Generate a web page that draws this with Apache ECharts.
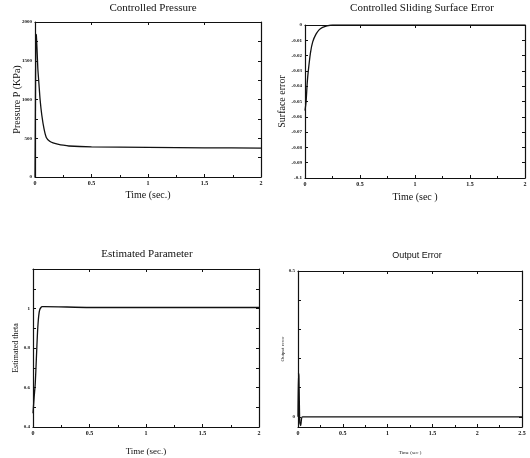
<!DOCTYPE html>
<html>
<head>
<meta charset="utf-8">
<script src="https://cdn.jsdelivr.net/npm/echarts@6/dist/echarts.min.js"></script>
<style>
  html, body { margin: 0; padding: 0; background: #fff; }
  #chart { width: 530px; height: 458px; }
</style>
</head>
<body>
<div id="chart"></div>
<script>
// values
var pressureT = [0, 0.004, 0.008, 0.012, 0.018, 0.025, 0.035, 0.045, 0.06, 0.08, 0.1, 0.13, 0.16, 0.2, 0.25, 0.3, 0.5, 1, 1.5, 2];
var pressureP = [0, 1000, 1840, 1830, 1650, 1400, 1200, 1000, 800, 620, 510, 460, 440, 425, 410, 400, 390, 383, 377, 372];

var surfT = [0, 0.01, 0.02, 0.03, 0.05, 0.07, 0.1, 0.13, 0.16, 0.2, 0.25, 0.5, 1, 1.5, 2];
var surfE = [-0.056, -0.05, -0.038, -0.03, -0.018, -0.011, -0.006, -0.003, -0.0015, -0.0005, 0, 0, 0, 0, 0];

var thetaT = [0, 0.01, 0.02, 0.03, 0.04, 0.05, 0.06, 0.08, 0.1, 0.5, 1, 1.5, 2];
var thetaV = [0.47, 0.55, 0.62, 0.75, 0.88, 0.96, 0.995, 1.01, 1.01, 1.005, 1.005, 1.005, 1.005];

var outT = [0, 0.005, 0.01, 0.015, 0.02, 0.03, 0.04, 0.05, 0.5, 1, 1.5, 2, 2.5];
var outE = [0, 0.15, 0.14, 0.05, -0.02, -0.03, -0.005, 0, 0, 0, 0, 0, 0];

// tick labels
var pressureTicks = [0, 500, 1000, 1500, 2000];
var surfTicks = [0, -0.01, -0.02, -0.03, -0.04, -0.05, -0.06, -0.07, -0.08, -0.09, -0.1];
var thetaTicks = [0.4, 0.6, 0.8, 1];
var outTicks = [0, 0.5];

var fnt = 'Liberation Serif';

function pairs(xs, ys) {
    var out = [];
    for (var i = 0; i < xs.length; i++) out.push([xs[i], ys[i]]);
    return out;
}

var grids = [
    {left: 35, top: 22, width: 226, height: 155},
    {left: 305, top: 25, width: 220, height: 153},
    {left: 33, top: 269, width: 226, height: 158},
    {left: 298, top: 271, width: 224, height: 156}
];

var xCfg = [
    {min: 0, max: 2, interval: 0.5, name: 'Time (sec.)', gap: 13, size: 10},
    {min: 0, max: 2, interval: 0.5, name: 'Time (sec )', gap: 14, size: 10},
    {min: 0, max: 2, interval: 0.5, name: 'Time (sec.)', gap: 20, size: 9},
    {min: 0, max: 2.5, interval: 0.5, name: 'Time (sec )', gap: 23, size: 5}
];
var yCfg = [
    {min: 0, max: 2000, ticks: pressureTicks, minor: [250, 750, 1250, 1750], name: 'Pressure P (KPa)', gap: 13, size: 10, free: true},
    {min: -0.1, max: 0, ticks: surfTicks, minor: [], name: 'Surface error', gap: 15, size: 10},
    {min: 0.4, max: 1.2, ticks: thetaTicks, minor: [0.5, 0.7, 0.9, 1.1, 1.2], name: 'Estimated theta', gap: 12, size: 8},
    {min: -0.035, max: 0.5, ticks: outTicks, minor: [0.1, 0.2, 0.3, 0.4], name: 'Output error', gap: 12, size: 5}
];

var xAxes = [], yAxes = [], series = [];
var datasets = [pairs(pressureT, pressureP), pairs(surfT, surfE), pairs(thetaT, thetaV), pairs(outT, outE)];

function axisLine() {
    return {show: true, onZero: false, lineStyle: {color: '#111', width: 1.2}};
}

grids.forEach(function (g, i) {
    var xc = xCfg[i], yc = yCfg[i];
    var yTickVals = yc.ticks.concat(yc.minor);
    xAxes.push({
        type: 'value', gridIndex: i, position: 'bottom', min: xc.min, max: xc.max, interval: xc.interval,
        name: xc.name, nameLocation: 'middle', nameGap: xc.gap,
        nameTextStyle: {fontFamily: fnt, fontSize: xc.size, color: '#111'},
        axisLine: axisLine(),
        axisTick: {inside: true, length: 3, lineStyle: {color: '#111'}},
        minorTick: {show: true, splitNumber: 2, length: 2, lineStyle: {color: '#111'}},
        splitLine: {show: false},
        axisLabel: {fontFamily: fnt, fontSize: 6, fontWeight: 'bold', color: '#111', margin: 3,
            formatter: function (v) { return String(v); }}
    });
    var y = {
        type: 'value', gridIndex: i, position: 'left', min: yc.min, max: yc.max,
        name: yc.name, nameLocation: 'middle', nameGap: yc.gap,
        nameTextStyle: {fontFamily: fnt, fontSize: yc.size, color: '#111'},
        axisLine: axisLine(),
        axisTick: {inside: true, length: 3, customValues: yTickVals, lineStyle: {color: '#111'}},
        splitLine: {show: false},
        axisLabel: {fontFamily: fnt, fontSize: 5, fontWeight: 'bold', color: '#111', margin: 3, customValues: yc.ticks,
            formatter: function (v) { return String(v); }}
    };
    if (yc.free) y.nameMoveOverlap = false;
    yAxes.push(y);
    // mirrored frame axes (top and right) carrying ticks only
    xAxes.push({
        type: 'value', gridIndex: i, position: 'top', min: xc.min, max: xc.max, interval: xc.interval,
        axisLine: axisLine(),
        axisTick: {inside: true, length: 3, lineStyle: {color: '#111'}},
        axisLabel: {show: false}, splitLine: {show: false}
    });
    yAxes.push({
        type: 'value', gridIndex: i, position: 'right', min: yc.min, max: yc.max,
        axisLine: axisLine(),
        axisTick: {inside: true, length: 3, customValues: yTickVals, lineStyle: {color: '#111'}},
        axisLabel: {show: false}, splitLine: {show: false}
    });
    series.push({
        type: 'line', xAxisIndex: i * 2, yAxisIndex: i * 2, data: datasets[i],
        showSymbol: false, smooth: 0.2, animation: false,
        lineStyle: {color: '#111', width: 1.3}
    });
});

var titleStyle = {fontFamily: fnt, fontSize: 11, fontWeight: 'normal', color: '#111'};
var option = {
    backgroundColor: '#fff',
    animation: false,
    title: [
        {text: 'Controlled Pressure', left: 148, top: -2, textAlign: 'center', textStyle: titleStyle},
        {text: 'Controlled Sliding Surface Error', left: 417, top: -2, textAlign: 'center', textStyle: titleStyle},
        {text: 'Estimated Parameter', left: 142, top: 244, textAlign: 'center', textStyle: titleStyle},
        {text: 'Output Error', left: 412, top: 246, textAlign: 'center',
            textStyle: {fontFamily: 'Liberation Sans', fontSize: 9, fontWeight: 'normal', color: '#111'}}
    ],
    grid: grids,
    xAxis: xAxes,
    yAxis: yAxes,
    series: series
};

var myChart = echarts.init(document.getElementById('chart'));
myChart.setOption(option);
</script>
</body>
</html>
